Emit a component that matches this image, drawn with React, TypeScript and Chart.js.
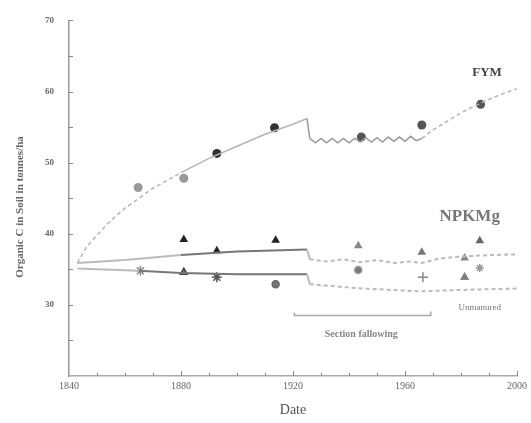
import React, { useEffect, useRef } from 'react';
import { Chart, registerables } from 'chart.js';

Chart.register(...registerables);

// ---- data ----
const xTickLabels = [1840, 1880, 1920, 1960, 2000];
const yTickLabels = [30, 40, 50, 60, 70];

const fymCurveYears = [1843, 1846, 1850, 1855, 1860, 1870, 1880, 1890, 1900, 1910, 1920, 1925, 1926,
  1928, 1930, 1932, 1934, 1936, 1938, 1940, 1942, 1944, 1946, 1948, 1950, 1952, 1954, 1956, 1958, 1960, 1962, 1964, 1966,
  1970, 1975, 1980, 1985, 1990, 1995, 2000];
const fymCurveValues = [35.9, 38.0, 39.8, 41.9, 43.6, 46.4, 48.6, 50.6, 52.3, 54.0, 55.4, 56.2, 53.4,
  52.8, 53.4, 52.8, 53.4, 52.8, 53.4, 52.8, 53.4, 52.9, 53.5, 52.9, 53.5, 52.9, 53.6, 53.0, 53.6, 53.0, 53.7, 53.1, 53.4,
  54.6, 55.8, 57.0, 58.0, 58.9, 59.7, 60.4];

const npkCurveYears = [1843, 1860, 1880, 1900, 1925, 1926, 1932, 1938, 1944, 1950, 1956, 1962, 1966, 1972, 1980, 1990, 2000];
const npkCurveValues = [35.9, 36.3, 37.0, 37.5, 37.8, 36.4, 36.1, 36.4, 36.0, 36.3, 35.9, 36.1, 35.9, 36.5, 36.8, 37.0, 37.1];

const unmCurveYears = [1843, 1865, 1880, 1900, 1925, 1926, 1935, 1945, 1955, 1966, 1980, 2000];
const unmCurveValues = [35.1, 34.8, 34.5, 34.3, 34.3, 32.9, 32.6, 32.3, 32.1, 31.9, 32.1, 32.3];

const fymObsYears = [1864.7, 1881, 1892.8, 1913.4, 1944.4, 1966, 1987];
const fymObsValues = [46.5, 47.8, 51.3, 54.9, 53.6, 55.3, 58.2];

const npkObsYears = [1881, 1892.8, 1913.8, 1943.3, 1966, 1981.3, 1986.7];
const npkObsValues = [39.2, 37.6, 39.1, 38.3, 37.4, 36.6, 39.0];

const unmObsYears = [1865.5, 1881, 1892.8, 1913.8, 1943.3, 1966.4, 1981.3, 1986.7];
const unmObsValues = [34.8, 34.6, 33.9, 32.9, 34.9, 33.9, 33.9, 35.2];

const zip = (xs: number[], ys: number[]) => xs.map((x, i) => ({ x, y: ys[i] }));

const SERIF = '"Liberation Serif", "DejaVu Serif", serif';

const annotPlugin = {
  id: 'annot',
  afterDraw(chart: any) {
    const { ctx, scales } = chart;
    const xs = scales.x;
    const ys = scales.y;
    const px = (v: number) => xs.getPixelForValue(v);
    const py = (v: number) => ys.getPixelForValue(v);
    ctx.save();
    // inward tick marks on y axis
    ctx.strokeStyle = '#888';
    ctx.lineWidth = 1;
    for (let v = 25; v <= 70; v += 5) {
      const y = Math.round(py(v)) + 0.5;
      ctx.beginPath();
      ctx.moveTo(xs.left, y);
      ctx.lineTo(xs.left + 4, y);
      ctx.stroke();
    }
    for (let v = 1850; v <= 2000; v += 10) {
      const x = Math.round(px(v)) + 0.5;
      ctx.beginPath();
      ctx.moveTo(x, ys.bottom);
      ctx.lineTo(x, ys.bottom - (v % 40 === 0 ? 5 : 3));
      ctx.stroke();
    }
    // labels
    ctx.textAlign = 'center';
    ctx.textBaseline = 'middle';
    ctx.fillStyle = '#444';
    ctx.font = 'bold 13px ' + SERIF;
    ctx.fillText('FYM', px(1989.3), py(62.6));
    ctx.fillStyle = '#777';
    ctx.font = 'bold 17px ' + SERIF;
    ctx.fillText('NPKMg', px(1983.1), py(42.4));
    ctx.fillStyle = '#777';
    ctx.font = '9px ' + SERIF;
    ctx.fillText('Unmanured', px(1986.7), py(29.6));
    // bracket
    ctx.strokeStyle = '#aaa';
    ctx.lineWidth = 1.5;
    const bx0 = px(1920.5), bx1 = px(1969.2), by = py(28.5);
    ctx.beginPath();
    ctx.moveTo(bx0, by - 3);
    ctx.lineTo(bx0, by);
    ctx.lineTo(bx1, by);
    ctx.lineTo(bx1, by - 4);
    ctx.stroke();
    ctx.fillStyle = '#888';
    ctx.font = 'bold 10px ' + SERIF;
    ctx.fillText('Section fallowing', px(1944.4), py(25.9));
    // y title
    ctx.translate(20, 207);
    ctx.rotate(-Math.PI / 2);
    ctx.fillStyle = '#666';
    ctx.font = 'bold 11px ' + SERIF;
    ctx.fillText('Organic C in Soil in tonnes/ha', 0, 0);
    ctx.restore();
  },
};

export default function App() {
  const ref = useRef<HTMLCanvasElement | null>(null);
  useEffect(() => {
    document.body.style.margin = '0';
    if (!ref.current) return;
    const curveSeg = {
      borderDash: (c: any) => (c.p0.parsed.x >= 1925.5 ? [4, 3] : undefined),
    };
    const chart = new Chart(ref.current, {
      type: 'line',
      data: {
        datasets: [
          {
            label: 'FYM curve',
            data: zip(fymCurveYears, fymCurveValues),
            borderColor: '#b5b5b5',
            borderWidth: 1.5,
            pointRadius: 0,
            tension: 0,
            segment: {
              borderDash: (c: any) => (c.p0.parsed.x < 1880 || c.p0.parsed.x >= 1966 ? [4, 3] : undefined),
              borderColor: (c: any) => (c.p0.parsed.x >= 1925 && c.p0.parsed.x < 1966 ? '#999' : '#b5b5b5'),
            },
          },
          {
            label: 'NPKMg curve',
            data: zip(npkCurveYears, npkCurveValues),
            borderColor: '#b5b5b5',
            borderWidth: 2,
            pointRadius: 0,
            segment: {
              ...curveSeg,
              borderColor: (c: any) => (c.p0.parsed.x >= 1880 && c.p1.parsed.x <= 1925 ? '#777' : '#bbb'),
            },
          },
          {
            label: 'Unmanured curve',
            data: zip(unmCurveYears, unmCurveValues),
            borderColor: '#b5b5b5',
            borderWidth: 2,
            pointRadius: 0,
            segment: {
              ...curveSeg,
              borderColor: (c: any) => (c.p0.parsed.x >= 1865 && c.p1.parsed.x <= 1925 ? '#777' : '#bbb'),
            },
          },
          {
            label: 'FYM',
            data: zip(fymObsYears, fymObsValues),
            showLine: false,
            pointStyle: 'circle',
            pointRadius: 4.5,
            pointBackgroundColor: ['#999', '#999', '#333', '#333', '#555', '#555', '#555'],
            pointBorderWidth: 0,
          },
          {
            label: 'NPKMg',
            data: zip(npkObsYears, npkObsValues),
            showLine: false,
            pointStyle: 'triangle',
            pointRadius: 5,
            pointBackgroundColor: ['#222', '#222', '#222', '#888', '#777', '#888', '#666'],
            pointBorderColor: ['#222', '#222', '#222', '#888', '#777', '#888', '#666'],
            pointBorderWidth: 0,
          },
          {
            label: 'Unmanured',
            data: zip(unmObsYears, unmObsValues),
            showLine: false,
            pointStyle: ['star', 'triangle', 'star', 'circle', 'circle', 'cross', 'triangle', 'star'],
            pointRadius: [5, 4, 5, 3.5, 3.5, 5, 4, 4],
            pointBackgroundColor: '#777',
            pointBorderColor: ['#888', '#444', '#555', '#666', '#999', '#888', '#888', '#999'],
            pointBorderWidth: 1.5,
          },
        ],
      },
      options: {
        responsive: false,
        animation: false,
        layout: { padding: { top: 18, right: 13, left: 0, bottom: 0 } },
        plugins: { legend: { display: false }, tooltip: { enabled: false } },
        scales: {
          x: {
            type: 'linear',
            min: 1840,
            max: 2000,
            afterFit: (s: any) => { s.height = 47; },
            afterBuildTicks: (s: any) => { s.ticks = xTickLabels.map((v) => ({ value: v })); },
            grid: { display: false, drawTicks: false },
            border: { color: '#aaa', width: 1.5 },
            ticks: {
              color: '#666', font: { family: SERIF, size: 10 }, padding: 4, maxRotation: 0,
              callback: (v: any) => String(v),
            },
            title: { display: true, text: 'Date', color: '#555', font: { family: SERIF, size: 14 }, padding: { top: 6 } },
          },
          y: {
            type: 'linear',
            min: 20,
            max: 70,
            afterFit: (s: any) => { s.width = 69; },
            afterBuildTicks: (s: any) => { s.ticks = yTickLabels.map((v) => ({ value: v })); },
            grid: { display: false, drawTicks: false },
            border: { color: '#999', width: 1.5 },
            ticks: { color: '#666', font: { family: SERIF, size: 9, weight: 'bold' }, padding: 15, callback: (v: any) => String(v) },
          },
        },
      },
      plugins: [annotPlugin],
    } as any);
    return () => chart.destroy();
  }, []);
  return (
    <div style={{ width: 531, height: 423 }}>
      <canvas ref={ref} width={531} height={423} />
    </div>
  );
}
